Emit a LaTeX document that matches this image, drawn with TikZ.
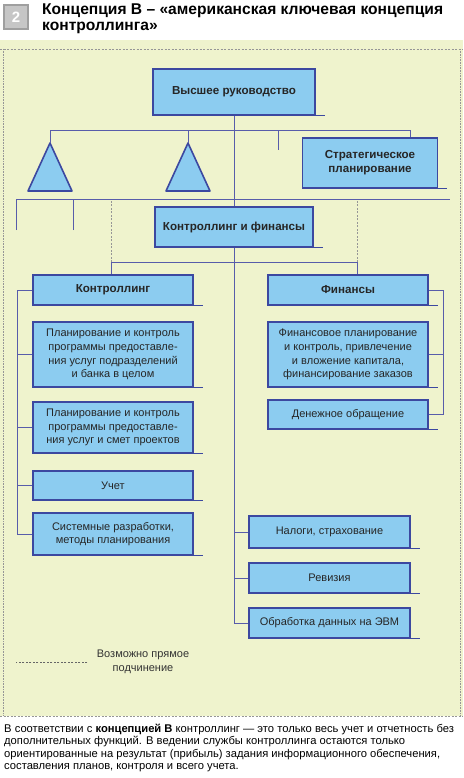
\documentclass[tikz,border=0pt]{standalone}
\usepackage{fontspec}
\setmainfont{Liberation Sans}
\definecolor{bgpaper}{RGB}{239,243,205}
\definecolor{boxfill}{RGB}{140,204,240}
\definecolor{boxline}{RGB}{60,72,160}
\definecolor{conn}{RGB}{88,92,170}
\definecolor{framegray}{RGB}{150,150,150}
\def\txt{\fontsize{11}{13.7}\selectfont}
\def\hd{\fontsize{11.6}{13.7}\selectfont\bfseries}

\begin{document}
\begin{tikzpicture}[x=1pt, y=-1pt,
  box/.style={draw=boxline, line width=1.8, fill=boxfill, align=center, inner sep=2,
    minimum width=160, font=\txt, text=black!85,
    append after command={([xshift=-3]\tikzlastnode.south east) edge [draw=boxline, line width=1] ([xshift=9]\tikzlastnode.south east)}},
  link/.style={draw=conn, line width=0.9},
  maybe/.style={draw=framegray, line width=0.7, dash pattern=on 2pt off 1.5pt}]
\useasboundingbox (0,0) rectangle (463,778);

% paper and frame
\fill [bgpaper] (0,40) rectangle (463,716);
\draw [maybe] (0,49) -- (463,49);
\draw [maybe] (0,716) -- (463,716);
\draw [framegray, line width=0.6, densely dotted] (3,49) -- (3,716);
\draw [framegray, line width=0.6, densely dotted] (460,49) -- (460,716);

% heading
\node (NUM) at (16,17) [draw=gray!75, line width=2.2, fill=gray!45, minimum size=24, inner sep=0, text=white, font=\fontsize{15}{15}\selectfont\bfseries] {2};
\node (TITLE) at (42,4) [anchor=north west, align=left, inner sep=0, font=\fontsize{15.6}{16}\selectfont\bfseries] {Концепция В – «американская ключевая концепция\\контроллинга»};

% boxes
\node (TOP) at (234,92) [box, minimum width=162, minimum height=46, font=\hd] {Высшее руководство};
\node (SP) at (370,163) [box, minimum width=135, minimum height=50, font=\hd] {Стратегическое\\планирование};
\node (CF) at (234,227) [box, minimum width=158, minimum height=40, font=\hd] {Контроллинг и финансы};
\node (CTRL) at (113,290) [box, minimum height=30, font=\hd] {Контроллинг};
\node (FIN) at (348,290) [box, minimum height=30, font=\hd] {Финансы};
\node (C1) at (113,354.5) [box, minimum height=65] {Планирование и контроль\\программы предоставле-\\ния услуг подразделений\\и банка в целом};
\node (C2) at (113,427.5) [box, minimum height=51] {Планирование и контроль\\программы предоставле-\\ния услуг и смет проектов};
\node (C3) at (113,485.5) [box, minimum height=29] {Учет};
\node (C4) at (113,534) [box, minimum height=42] {Системные разработки,\\методы планирования};
\node (F1) at (348,354.5) [box, minimum height=65] {Финансовое планирование\\и контроль, привлечение\\и вложение капитала,\\финансирование заказов};
\node (F2) at (348,414.5) [box, minimum height=29] {Денежное обращение};
\node (R1) at (329.5,532) [box, minimum width=161, minimum height=32] {Налоги, страхование};
\node (R2) at (329.5,578) [box, minimum width=161, minimum height=30] {Ревизия};
\node (R3) at (329.5,623) [box, minimum width=161, minimum height=30] {Обработка данных на ЭВМ};

% triangles
\coordinate (T1) at (50,143);
\coordinate (T2) at (188,143);
\draw [boxline, fill=boxfill, line width=1.6, line join=round] (T1) -- ++(22,48) -- ++(-44,0) -- cycle;
\draw [boxline, fill=boxfill, line width=1.6, line join=round] (T2) -- ++(22,48) -- ++(-44,0) -- cycle;

% upper level
\coordinate (HL) at (50,130);
\coordinate (HR) at (410,130);
\coordinate (S1) at (278,150);
\draw [link] (T1) -- (HL) -- (HR) -- (HR |- SP.north);
\draw [link] (T2) -- (T2 |- HL);
\draw [link] (S1) -- (S1 |- HL);
\draw [link] (TOP) -- (CF);

\coordinate (L1) at (16,230);
\coordinate (L2) at (73,230);
\coordinate (M) at (450,199);
\draw [link] (L1) |- (M);
\draw [link] (L2) -- (L2 |- M);

% controlling and finance
\coordinate (J1) at (111,262);
\coordinate (J2) at (357,262);
\draw [link] (J1 |- CTRL.north) -- (J1) -- (J2) -- (J2 |- FIN.north);
\draw [maybe] (J1) -- (J1 |- M);
\draw [maybe] (J2) -- (J2 |- M);

\draw [link] (CTRL.west) -- ++(-15,0) |- (C4.west);
\draw [link] (C1.west) -- ++(-15,0);
\draw [link] (C2.west) -- ++(-15,0);
\draw [link] (C3.west) -- ++(-15,0);

\draw [link] (FIN.east) -- ++(15,0) |- (F2.east);
\draw [link] (F1.east) -- ++(15,0);

\draw [link] (CF) |- (R3);
\draw [link] (R1) -- (R1 -| CF);
\draw [link] (R2) -- (R2 -| CF);

% legend and note
\node (LEG) at (143,662) [align=center, font=\txt, text=black!80] {Возможно прямое\\подчинение};
\draw [maybe, draw=black!60] ([xshift=-6]LEG.west) -- ++(-71,0);
\node (NOTE) at (4,724) [anchor=north west, align=left, inner sep=0, font=\fontsize{11.2}{12.4}\selectfont] {В соответствии с \textbf{концепцией В} контроллинг — это только весь учет и отчетность без\\дополнительных функций. В ведении службы контроллинга остаются только\\ориентированные на результат (прибыль) задания информационного обеспечения,\\составления планов, контроля и всего учета.};
\end{tikzpicture}
\end{document}
